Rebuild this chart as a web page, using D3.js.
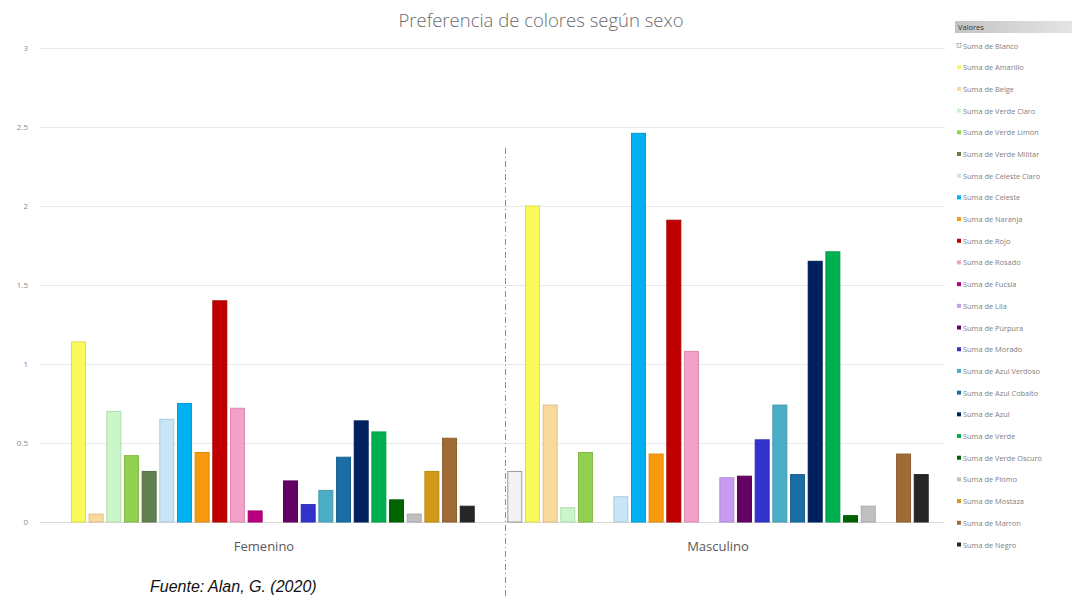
<!DOCTYPE html>
<html>
<head>
<meta charset="utf-8">
<script src="https://cdn.jsdelivr.net/npm/d3@7"></script>
<style>
  html, body { margin: 0; padding: 0; background: #fff; }
  svg { display: block; font-family: "Open Sans", "Liberation Sans", sans-serif; }
</style>
</head>
<body>
<svg id="chart" width="1076" height="596"></svg>
<script>
// Groups on the x axis
const groups = ["Femenino", "Masculino"];

// One series per colour
const series = [
  "Blanco", "Amarillo", "Beige", "Verde Claro", "Verde Limon", "Verde Militar",
  "Celeste Claro", "Celeste", "Naranja", "Rojo", "Rosado", "Fucsia", "Lila",
  "Púrpura", "Morado", "Azul Verdoso", "Azul Cobalto", "Azul", "Verde",
  "Verde Oscuro", "Plomo", "Mostaza", "Marron", "Negro"
];

// Bar fill for each series
const seriesColors = [
  "#f2f2f2", "#fafa5c", "#f9d99c", "#c9f7c9", "#92d050", "#627f4e",
  "#c8e4f7", "#00b0f0", "#f99a0e", "#c00000", "#f5a0c9", "#b8007f", "#c79bf2",
  "#650065", "#3333cc", "#4baec6", "#1a6ea4", "#002060", "#00b050",
  "#006400", "#c0c0c0", "#d09a18", "#9f6b37", "#262626"
];

// Sum of answers, Femenino
const femenino = [
  0, 1.14, 0.05, 0.70, 0.42, 0.32, 0.65, 0.75, 0.44, 1.40, 0.72, 0.07, 0,
  0.26, 0.11, 0.20, 0.41, 0.64, 0.57, 0.14, 0.05, 0.32, 0.53, 0.10
];

// Sum of answers, Masculino
const masculino = [
  0.32, 2.00, 0.74, 0.09, 0.44, 0, 0.16, 2.46, 0.43, 1.91, 1.08, 0, 0.28,
  0.29, 0.52, 0.74, 0.30, 1.65, 1.71, 0.04, 0.10, 0, 0.43, 0.30
];

const yTicks = [0, 0.5, 1, 1.5, 2, 2.5, 3];

const values = { "Femenino": femenino, "Masculino": masculino };

const svg = d3.select("#chart");

const x0 = d3.scaleBand().domain(groups).range([37, 945]).padding(0);
const x1 = d3.scaleBand().domain(series).range([0, x0.bandwidth()])
  .paddingInner(0.21).paddingOuter(0.95);
const y = d3.scaleLinear().domain([0, 3]).range([522, 48]);

// Title
svg.append("text")
  .attr("x", 541).attr("y", 27)
  .attr("text-anchor", "middle")
  .attr("font-size", 18.5).attr("font-weight", 300)
  .attr("fill", "#6b6b6b")
  .text("Preferencia de colores según sexo");

// Gridlines and y tick labels
const yAxis = d3.axisLeft(y).tickValues(yTicks)
  .tickSize(-(x0.range()[1] - x0.range()[0] - 3))
  .tickPadding(12)
  .tickFormat(d => String(d));

const yG = svg.append("g")
  .attr("transform", "translate(40,0)")
  .call(yAxis);
yG.select(".domain").remove();
yG.selectAll(".tick line").attr("stroke", "#e8e8e8").attr("stroke-width", 1);
yG.selectAll(".tick text").attr("fill", "#8a8a8a").attr("font-size", 8)
  .attr("font-family", "Open Sans, sans-serif");

// Baseline
svg.append("line")
  .attr("x1", 40).attr("x2", 942)
  .attr("y1", y(0) + 0.5).attr("y2", y(0) + 0.5)
  .attr("stroke", "#d9d9d9");

// Bars
const groupG = svg.append("g").selectAll("g")
  .data(groups).join("g")
  .attr("transform", g => `translate(${x0(g)},0)`);

groupG.selectAll("rect")
  .data(g => values[g].map((v, i) => ({ key: series[i], v, i })))
  .join("rect")
  .attr("x", d => x1(d.key))
  .attr("width", x1.bandwidth())
  .attr("y", d => y(d.v))
  .attr("height", d => y(0) - y(d.v))
  .attr("fill", d => seriesColors[d.i])
  .attr("stroke", d => d.i === 0 ? "#9a9a9a" : d3.color(seriesColors[d.i]).darker(0.35))
  .attr("stroke-width", 1);

// Group labels
svg.append("g").selectAll("text")
  .data(groups).join("text")
  .attr("x", g => x0(g) + x0.bandwidth() / 2)
  .attr("y", 551)
  .attr("text-anchor", "middle")
  .attr("font-size", 13)
  .attr("fill", "#595959")
  .text(g => g);

// Dashed divider between the groups
svg.append("line")
  .attr("x1", 505.5).attr("x2", 505.5)
  .attr("y1", 148).attr("y2", 596)
  .attr("stroke", "#8c8c8c")
  .attr("stroke-width", 1)
  .attr("stroke-dasharray", "6,3,1,3");

// Source note
svg.append("text")
  .attr("x", 150).attr("y", 592)
  .attr("font-family", "Liberation Sans, Arial, sans-serif")
  .attr("font-style", "italic")
  .attr("font-size", 16)
  .attr("fill", "#111")
  .text("Fuente: Alan, G. (2020)");

// Legend
const defs = svg.append("defs");
const grad = defs.append("linearGradient").attr("id", "hdr")
  .attr("x1", 0).attr("x2", 1).attr("y1", 0).attr("y2", 0);
grad.append("stop").attr("offset", "0%").attr("stop-color", "#c4c4c4");
grad.append("stop").attr("offset", "100%").attr("stop-color", "#e4e4e4");

const legend = svg.append("g").attr("transform", "translate(955,0)");
legend.append("rect")
  .attr("x", 0).attr("y", 21).attr("width", 117).attr("height", 12)
  .attr("fill", "url(#hdr)");
legend.append("text")
  .attr("x", 3).attr("y", 30)
  .attr("font-size", 7.5).attr("fill", "#333")
  .text("Valores");

const ly = d3.scalePoint().domain(series).range([46, 545]);

const item = legend.selectAll("g.item")
  .data(series).join("g")
  .attr("class", "item")
  .attr("transform", s => `translate(0,${ly(s)})`);

item.append("rect")
  .attr("x", 2).attr("y", -2.5).attr("width", 4).attr("height", 4)
  .attr("fill", (s, i) => seriesColors[i])
  .attr("stroke", (s, i) => i === 0 ? "#999" : "none")
  .attr("stroke-width", 0.6);

item.append("text")
  .attr("x", 8).attr("y", 2.5)
  .attr("font-size", 7.4)
  .attr("fill", "#808080")
  .text(s => "Suma de " + s);
</script>
</body>
</html>
